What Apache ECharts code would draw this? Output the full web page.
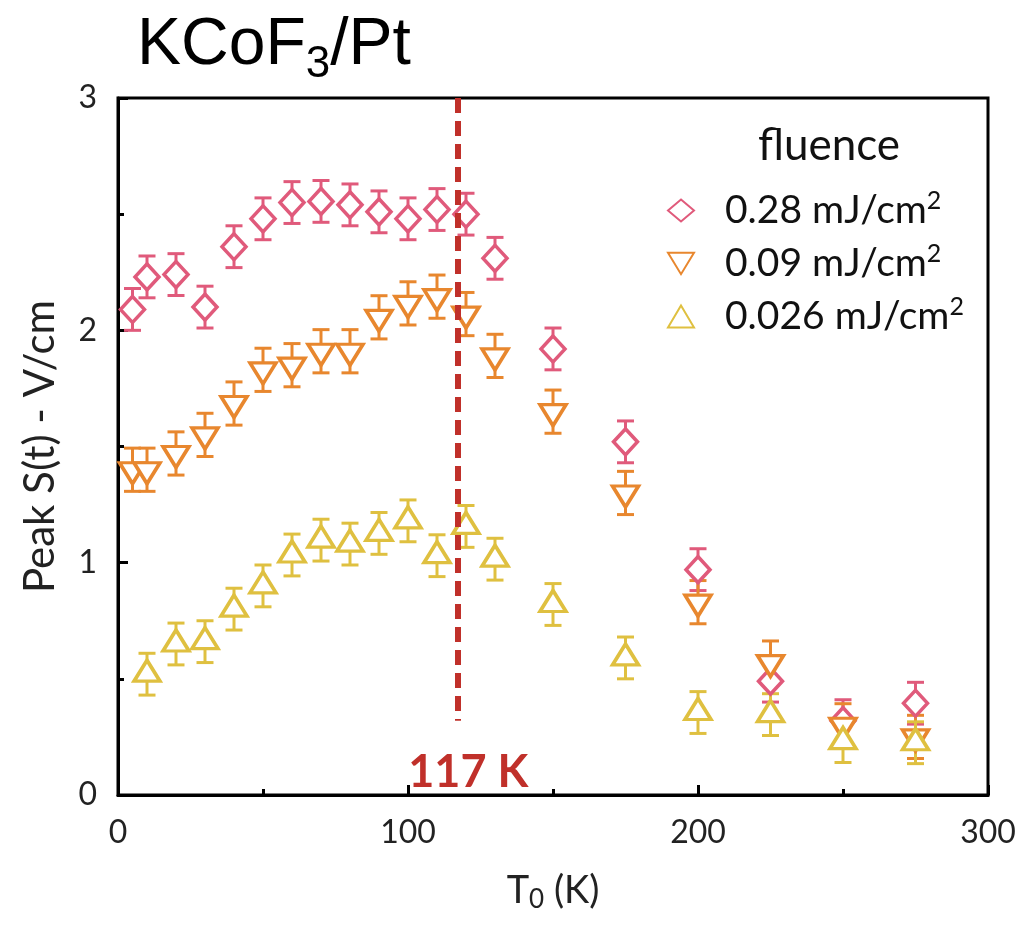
<!DOCTYPE html>
<html>
<head>
<meta charset="utf-8">
<script src="https://cdn.jsdelivr.net/npm/echarts@6/dist/echarts.min.js"></script>
<style>html,body{margin:0;padding:0;background:#fff}#c{width:1022px;height:940px}</style>
</head>
<body>
<div id="c"></div>
<script>
// ---- data ----
const tHigh = [5, 10, 20, 30, 40, 50, 60, 70, 80, 90, 100, 110, 120, 130, 150, 175, 200, 225, 250, 275];
const sHigh = [2.09, 2.23, 2.24, 2.10, 2.36, 2.48, 2.55, 2.555, 2.54, 2.51, 2.48, 2.52, 2.50, 2.31, 1.92, 1.52, 0.97, 0.49, 0.32, 0.395];
const eHigh = [0.09, 0.09, 0.09, 0.09, 0.09, 0.09, 0.09, 0.09, 0.09, 0.09, 0.09, 0.09, 0.09, 0.09, 0.09, 0.09, 0.09, 0.09, 0.09, 0.09];

const tMid = [5, 10, 20, 30, 40, 50, 60, 70, 80, 90, 100, 110, 120, 130, 150, 175, 200, 225, 250, 275];
const sMid = [1.40, 1.40, 1.47, 1.55, 1.685, 1.83, 1.85, 1.91, 1.91, 2.056, 2.116, 2.145, 2.07, 1.89, 1.65, 1.30, 0.83, 0.57, 0.30, 0.25];
const eMid = [0.093, 0.093, 0.093, 0.093, 0.093, 0.093, 0.093, 0.093, 0.093, 0.093, 0.093, 0.093, 0.093, 0.093, 0.093, 0.093, 0.093, 0.093, 0.093, 0.093];

const tLow = [10, 20, 30, 40, 50, 60, 70, 80, 90, 100, 110, 120, 130, 150, 175, 200, 225, 250, 275];
const sLow = [0.52, 0.65, 0.66, 0.80, 0.90, 1.033, 1.097, 1.08, 1.126, 1.18, 1.03, 1.156, 1.015, 0.82, 0.59, 0.355, 0.346, 0.23, 0.225];
const eLow = [0.09, 0.09, 0.09, 0.09, 0.09, 0.09, 0.09, 0.09, 0.09, 0.09, 0.09, 0.09, 0.09, 0.09, 0.09, 0.09, 0.09, 0.09, 0.09];

const seriesNames = ['0.28', '0.09', '0.026'];
const xTicks = [0, 100, 200, 300];
const yTicks = [0, 1, 2, 3];
const transitionT = 117;
const transitionLabel = '117 K';

// ---- styles ----
const colors = ['#e05a7b', '#e8872e', '#dfc040'];
const FONT = 'Lato';

function pts(t, s, e) { return t.map((x, i) => [x, s[i], e[i]]); }

function errSeries(data, color) {
  return {
    type: 'custom',
    data: data,
    z: 2,
    silent: true,
    renderItem: function (params, api) {
      const x = api.value(0), y = api.value(1), e = api.value(2);
      const top = api.coord([x, y + e]);
      const bot = api.coord([x, y - e]);
      const hw = 8.5;
      const st = { stroke: color, lineWidth: 3 };
      return {
        type: 'group',
        children: [
          { type: 'line', shape: { x1: top[0], y1: top[1], x2: bot[0], y2: bot[1] }, style: st },
          { type: 'line', shape: { x1: top[0] - hw, y1: top[1], x2: top[0] + hw, y2: top[1] }, style: st },
          { type: 'line', shape: { x1: bot[0] - hw, y1: bot[1], x2: bot[0] + hw, y2: bot[1] }, style: st }
        ]
      };
    }
  };
}

const downTri = 'path://M0,0L10,0L5,8.2Z';

const chart = echarts.init(document.getElementById('c'));
chart.setOption({
  animation: false,
  backgroundColor: '#fff',
  title: [
    {
      text: 'KCoF{sub|3}/Pt',
      left: 132, top: 0,
      textStyle: {
        fontFamily: 'Liberation Sans', fontSize: 66, fontWeight: 'normal', color: '#000',
        rich: { sub: { fontFamily: 'Liberation Sans', fontSize: 44, color: '#000', verticalAlign: 'bottom', padding: [38, 0, 0, 0] } }
      }
    },
    {
      text: 'fluence',
      left: 753, top: 119,
      textStyle: { fontFamily: FONT, fontSize: 44, fontWeight: 'normal', color: '#111' }
    }
  ],
  legend: {
    orient: 'vertical',
    left: 662, top: 183,
    itemWidth: 26, itemHeight: 22,
    itemGap: 11,
    data: seriesNames,
    formatter: function (n) { return '{a|' + n + ' mJ/cm}{s|2}'; },
    textStyle: {
      color: '#111',
      rich: {
        a: { fontFamily: FONT, fontSize: 39, color: '#111', padding: [0, 0, 0, 26] },
        s: { fontFamily: FONT, fontSize: 25, color: '#111', verticalAlign: 'top', padding: [0, 0, 20, 0] }
      }
    }
  },
  grid: { left: 118, right: 34, top: 98, bottom: 145, show: true, borderColor: '#000', borderWidth: 3 },
  xAxis: {
    type: 'value', min: 0, max: 300, interval: 100,
    name: 'T{sub|0} (K)', nameLocation: 'middle', nameGap: 74,
    nameTextStyle: {
      fontFamily: FONT, fontSize: 38, color: '#222',
      rich: { sub: { fontFamily: FONT, fontSize: 26, color: '#222', verticalAlign: 'bottom', padding: [18, 0, 0, 0] } }
    },
    axisLine: { lineStyle: { color: '#000', width: 3 } },
    axisTick: { inside: true, length: 10, lineStyle: { color: '#000', width: 3 } },
    minorTick: { show: true, splitNumber: 2, length: 6, lineStyle: { color: '#000', width: 3 } },
    splitLine: { show: false },
    axisLabel: { fontFamily: FONT, fontSize: 32, color: '#222', margin: 22 }
  },
  yAxis: {
    type: 'value', min: 0, max: 3, interval: 1,
    name: 'Peak S(t) - V/cm', nameLocation: 'middle', nameGap: 57, nameRotate: 90,
    nameTextStyle: { fontFamily: FONT, fontSize: 42, color: '#222' },
    axisLine: { lineStyle: { color: '#000', width: 3 } },
    axisTick: { inside: true, length: 10, lineStyle: { color: '#000', width: 3 } },
    minorTick: { show: true, splitNumber: 2, length: 6, lineStyle: { color: '#000', width: 3 } },
    splitLine: { show: false },
    axisLabel: { fontFamily: FONT, fontSize: 32, color: '#222', margin: 21 }
  },
  series: [
    errSeries(pts(tHigh, sHigh, eHigh), colors[0]),
    errSeries(pts(tMid, sMid, eMid), colors[1]),
    errSeries(pts(tLow, sLow, eLow), colors[2]),
    {
      name: seriesNames[0], type: 'scatter', z: 3,
      data: pts(tHigh, sHigh, eHigh),
      symbol: 'diamond', symbolSize: [24, 26],
      itemStyle: { color: '#fff', borderColor: colors[0], borderWidth: 3.5, opacity: 1 },
      markLine: {
        silent: true, symbol: 'none',
        lineStyle: { color: '#c0302a', width: 6, type: [15, 8] },
        label: { show: false },
        data: [[{ coord: [transitionT, 3] }, { coord: [transitionT, 0.32] }]]
      },
      markPoint: {
        silent: true, symbol: 'circle', symbolSize: 0,
        data: [{ coord: [transitionT, 0.095] }],
        label: {
          show: true, formatter: transitionLabel, offset: [11, 0],
          fontFamily: FONT, fontSize: 45, fontWeight: 'bold', color: '#c0302a'
        }
      }
    },
    {
      name: seriesNames[1], type: 'scatter', z: 3,
      data: pts(tMid, sMid, eMid),
      symbol: downTri, symbolSize: [26, 21], symbolOffset: [0, 3.5],
      itemStyle: { color: '#fff', borderColor: colors[1], borderWidth: 3.5, opacity: 1 }
    },
    {
      name: seriesNames[2], type: 'scatter', z: 3,
      data: pts(tLow, sLow, eLow),
      symbol: 'triangle', symbolSize: [26, 21], symbolOffset: [0, -3.5],
      itemStyle: { color: '#fff', borderColor: colors[2], borderWidth: 3.5, opacity: 1 }
    }
  ]
});
</script>
</body>
</html>
